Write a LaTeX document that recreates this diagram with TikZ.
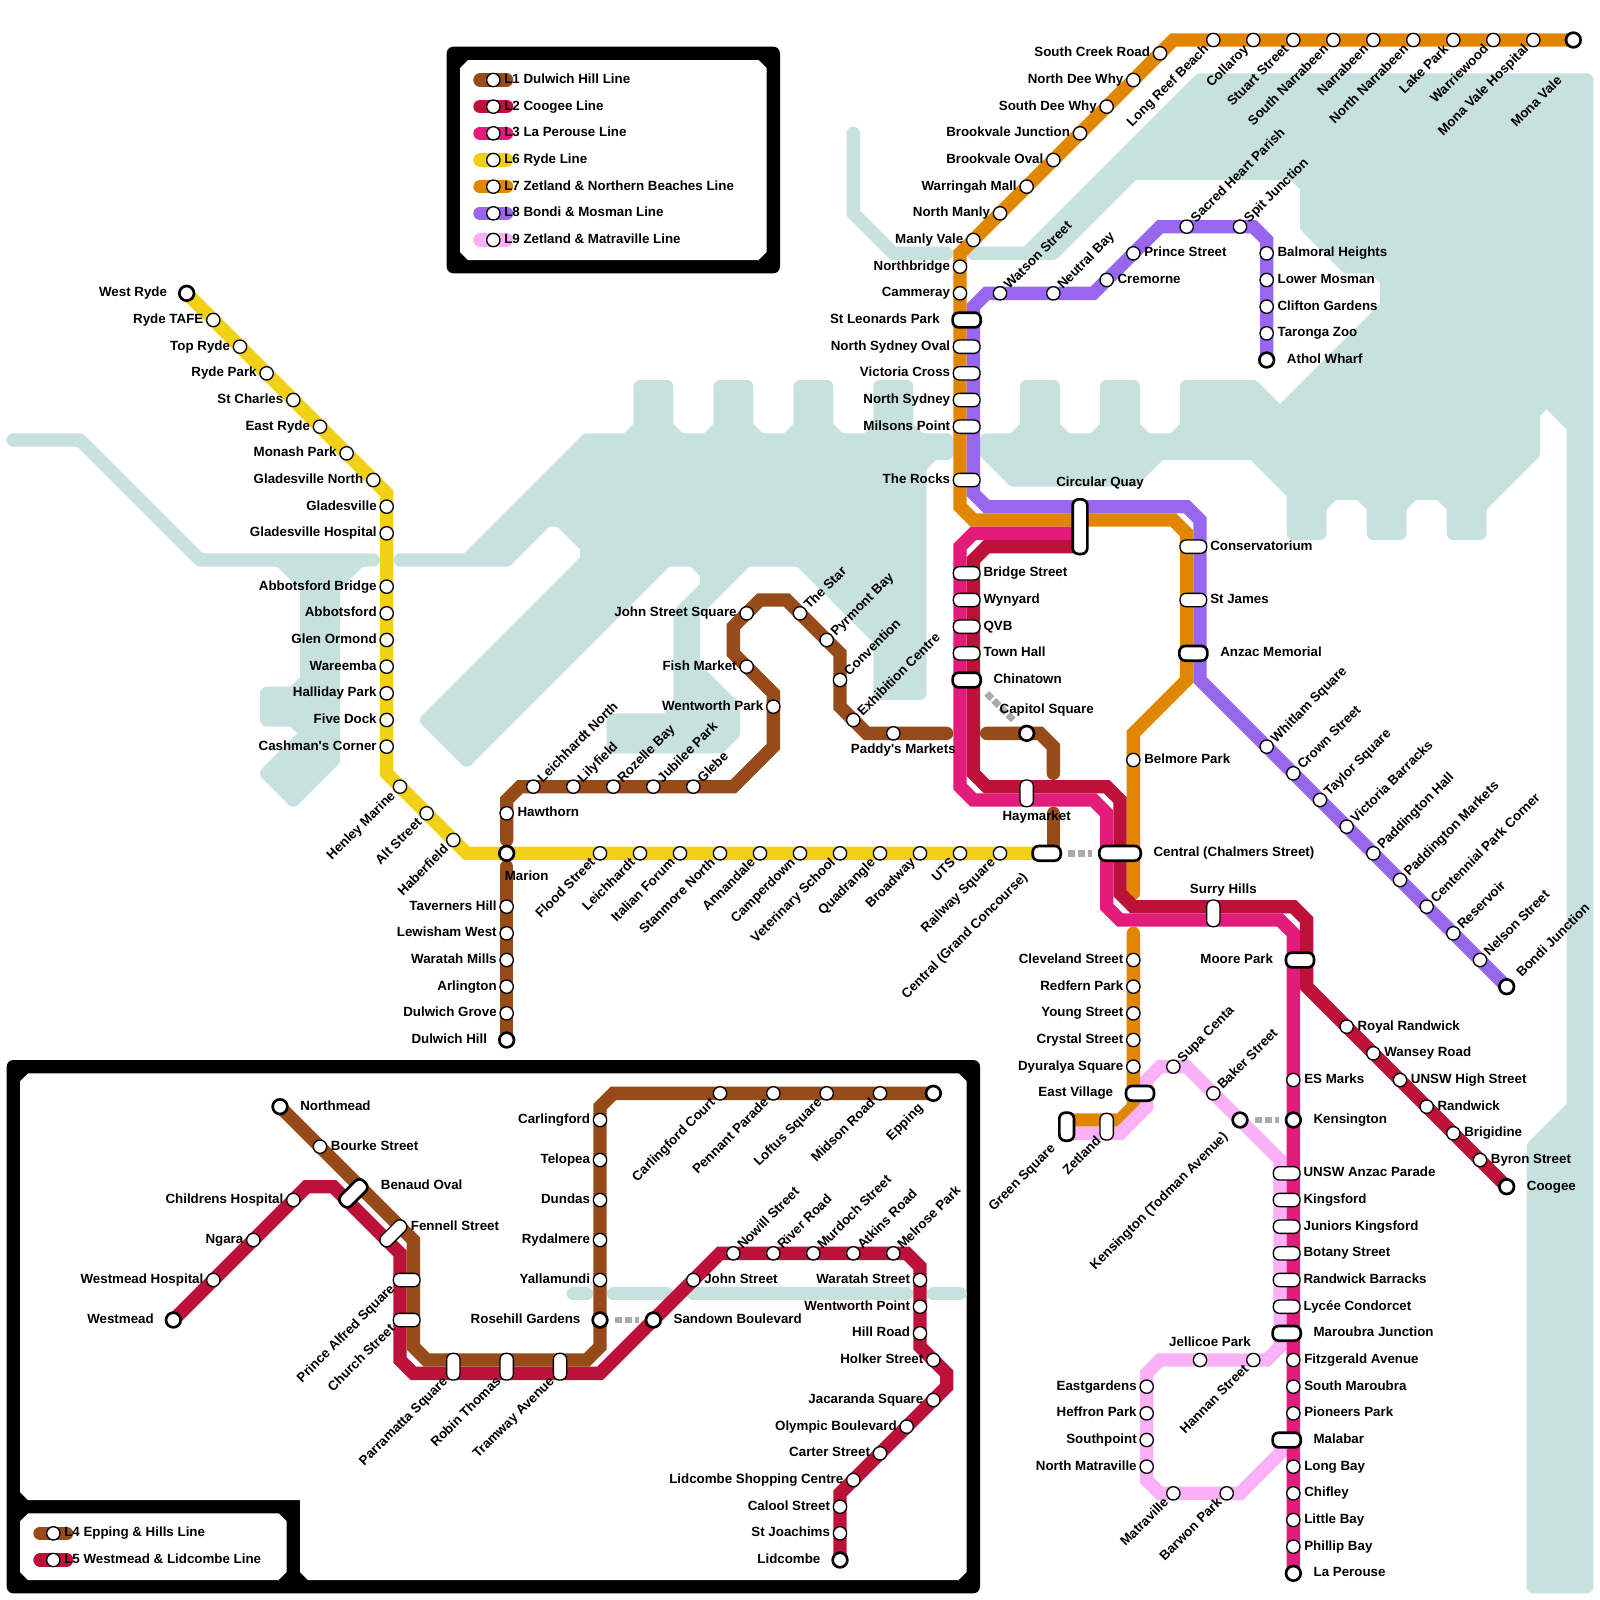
\documentclass[tikz,border=0pt]{standalone}
\usepackage{fontspec}
\newfontfamily\stopfont{Liberation Sans}
\pgfdeclarelayer{stops}
\pgfsetlayers{main,stops}
\definecolor{waterblue}{HTML}{C7E1DF}
\definecolor{lineone}{HTML}{964B19}
\definecolor{linetwo}{HTML}{BC1138}
\definecolor{linethree}{HTML}{E31C7C}
\definecolor{linesix}{HTML}{F2D016}
\definecolor{lineseven}{HTML}{E08600}
\definecolor{lineeight}{HTML}{9966EE}
\definecolor{linenine}{HTML}{FBB1F8}
\tikzset{
  every picture/.style={line cap=round,line join=miter},
  waterarea/.style={fill=waterblue,draw=waterblue,line width=10pt,line join=round},
  waterline/.style={draw=waterblue,line width=10pt},
  metroline/.style={draw=#1,line width=10pt},
  transfer/.style={draw=black!33,line width=5pt,line cap=butt,dash pattern=on 5.6pt off 1.9pt,shorten <=4.5pt,shorten >=4.5pt},
  stopnode/.style={circle,draw,fill=white,line width=1pt,minimum size=10pt,inner sep=0pt},
  endnode/.style={stopnode,line width=2pt,minimum size=11pt},
  pillnode/.style={rectangle,rounded corners=4.5pt,draw,fill=white,line width=1pt,minimum width=#1,minimum height=10pt,inner sep=0pt},
  pillnode/.default=20pt,
  thicknode/.style={pillnode=#1,line width=2pt,minimum height=11pt},
  thicknode/.default=21pt,
  lab/.style={inner sep=0pt,font=\fontsize{10}{12}\stopfont\bfseries},
  rgt/.style={lab,anchor=base west,xshift=#1,yshift=-2.5pt},
  rgt/.default=8pt,
  lft/.style={lab,anchor=base east,xshift=-#1,yshift=-2.5pt},
  lft/.default=7.3pt,
  upr/.style={lab,xshift=.707*#1+2pt,yshift=.707*#1-2.5pt,rotate=45,anchor=base west},
  upr/.default=7pt,
  lowl/.style={lab,xshift=-.707*#1+2pt,yshift=-.707*#1-2.5pt,rotate=45,anchor=base east},
  lowl/.default=7pt,
  lowv/.style={lab,xshift=-3.7pt,yshift=-11.5pt,rotate=45,anchor=base east},
  lowp/.style={lab,xshift=-8.3pt,yshift=-7.2pt,rotate=45,anchor=base east},
  lbloff/.style n args={3}{lab,anchor=#1,xshift=#2,yshift=#3}
}
\newcommand{\stopat}[5][stopnode]{%
  \node[#1] (#2) at (#3) {};
  \node[#4] (#2t) at (#2.center) {#5};}
\newcommand{\keyrow}[4]{%
  \coordinate (#1) at (#2);
  \draw[metroline=#3] ([xshift=-10pt]#1) -- ([xshift=10pt]#1);
  \stopat{#1s}{#1}{rgt}{#4}}

\begin{document}
\begin{tikzpicture}[x=10pt,y=-10pt]
  \useasboundingbox (0,0) rectangle (120,120);
  % water
  \draw[waterarea] (1,33) -- (6,33) -- (15,42) -- (28,42) -- (27,42) -- (25,44) -- (25,57) -- (22,60) -- (20,58) -- (23,55) -- (22,54) -- (20,54) -- (20,52) -- (22,52) -- (23,51) -- (23,44) -- (21,42) -- (15,42) -- (6,33) -- cycle;
  \draw[waterarea] (30,42) -- (35,42) -- (44,33) -- (47,33) -- (48,32) -- (48,29) -- (50,29) -- (50,32) -- (51,33) -- (53,33) -- (54,32) -- (54,29) -- (56,29) -- (56,32) -- (57,33) -- (59,33) -- (60,32) -- (60,29) -- (62,29) -- (62,32) -- (63,33) -- (65,33) -- (66,32) -- (66,29) -- (68,29) -- (68,32) -- (69,33) -- (71,33) -- (71,34) -- (70,34) -- (69,35) -- (69,52) -- (66,52) -- (66,48) -- (60,42) -- (56,42) -- (52,46) -- (52,50) -- (55,53) -- (55,55) -- (54,56) -- (46,56) -- (46,54) -- (50,54) -- (51,53) -- (51,46) -- (53,44) -- (53,43) -- (52,42) -- (50,42) -- (35,57) -- (32,54) -- (44,42) -- (44,41) -- (42,39) -- (41,39) -- (38,42) -- cycle;
  \draw[waterarea] (74,33) -- (76,33) -- (77,32) -- (77,29) -- (79,29) -- (79,32) -- (80,33) -- (82,33) -- (83,32) -- (83,29) -- (85,29) -- (85,32) -- (86,33) -- (88,33) -- (89,32) -- (89,29) -- (94,29) -- (96,31) -- (104,23) -- (104,21) -- (103,20) -- (101,20) -- (98,17) -- (98,14) -- (97,13) -- (85,13) -- (79,19) -- (73,19) -- (77,19) -- (90,6) -- (119,6) -- (119,119) -- (115,119) -- (115,86) -- (118,83) -- (118,32) -- (116,30) -- (115,31) -- (115,34) -- (111,38) -- (111,40) -- (109,40) -- (109,38) -- (108,37) -- (106,37) -- (105,38) -- (105,40) -- (103,40) -- (103,38) -- (102,37) -- (100,37) -- (99,38) -- (99,40) -- (97,40) -- (97,37) -- (94,34) -- (87,34) -- (85,36) -- (76,36) -- (74,34) -- cycle;
  \draw[waterline] (64,10) -- (64,16) -- (67,19) -- (71,19);

  % frames
  \fill[rounded corners=5pt] (33.5,3.5) rectangle (58.5,20.5);
  \fill[white] (35.1,4.5) -- (56.9,4.5) -- (57.5,5.1) -- (57.5,18.9) -- (56.9,19.5) -- (35.1,19.5) -- (34.5,18.9) -- (34.5,5.1) -- cycle;
  \fill[rounded corners=5pt] (0.5,79.5) rectangle (73.5,119.5);
  \fill[white] (2.1,80.5) -- (71.9,80.5) -- (72.5,81.1) -- (72.5,117.9) -- (71.9,118.5) -- (23.1,118.5) -- (22.5,117.9) -- (22.5,112.5) -- (2.1,112.5) -- (1.5,111.9) -- (1.5,81.1) -- cycle;
  \fill[white] (2.1,113.5) -- (20.9,113.5) -- (21.5,114.1) -- (21.5,117.9) -- (20.9,118.5) -- (2.1,118.5) -- (1.5,117.9) -- (1.5,114.1) -- cycle;
  \draw[waterline] (43,97) -- (44,97);
  \draw[waterline] (46,97) -- (50,97);
  \draw[waterline] (52,97) -- (68,97);
  \draw[waterline] (70,97) -- (72,97);

  \begin{pgfonlayer}{stops}
    % L6
    \stopat[endnode]{wryde}{14,22}{lft=14.5pt}{West Ryde}
    \stopat{rtafe}{16,24}{lft}{Ryde TAFE}
    \stopat{tryde}{18,26}{lft}{Top Ryde}
    \stopat{rpark}{20,28}{lft}{Ryde Park}
    \stopat{schas}{22,30}{lft}{St Charles}
    \stopat{eryde}{24,32}{lft}{East Ryde}
    \stopat{monash}{26,34}{lft}{Monash Park}
    \stopat{gnorth}{28,36}{lft}{Gladesville North}
    \stopat{gville}{29,38}{lft}{Gladesville}
    \stopat{ghosp}{29,40}{lft}{Gladesville Hospital}
    \stopat{abridge}{29,44}{lft}{Abbotsford Bridge}
    \stopat{abbots}{29,46}{lft}{Abbotsford}
    \stopat{glen}{29,48}{lft}{Glen Ormond}
    \stopat{ware}{29,50}{lft}{Wareemba}
    \stopat{halli}{29,52}{lft}{Halliday Park}
    \stopat{fived}{29,54}{lft}{Five Dock}
    \stopat{cashm}{29,56}{lft}{Cashman's Corner}
    \stopat{henley}{30,59}{lowl}{Henley Marine}
    \stopat{altst}{32,61}{lowl}{Alt Street}
    \stopat{haber}{34,63}{lowl}{Haberfield}
    \stopat[endnode]{marion}{38,64}{lbloff={base}{15pt}{-20pt}}{Marion}
    \stopat{flood}{45,64}{lowl}{Flood Street}
    \stopat{leich}{48,64}{lowl}{Leichhardt}
    \stopat{italian}{51,64}{lowl}{Italian Forum}
    \stopat{stanm}{54,64}{lowl}{Stanmore North}
    \stopat{annan}{57,64}{lowl}{Annandale}
    \stopat{campd}{60,64}{lowl}{Camperdown}
    \stopat{vets}{63,64}{lowl}{Veterinary School}
    \stopat{quad}{66,64}{lowl}{Quadrangle}
    \stopat{broad}{69,64}{lowl}{Broadway}
    \stopat{uts}{72,64}{lowl}{UTS}
    \stopat{rail}{75,64}{lowl}{Railway Square}
    \stopat[thicknode]{grand}{78.5,64}{lowl=22.5pt}{Central (Grand Concourse)}
    % L7
    \stopat[endnode]{mona}{118,3}{{lbloff={base east}{-8pt}{-31pt},rotate=45}}{Mona Vale}
    \stopat{monah}{115,3}{lowl}{Mona Vale Hospital}
    \stopat{warri}{112,3}{lowl}{Warriewood}
    \stopat{lakep}{109,3}{lowl}{Lake Park}
    \stopat{nnarra}{106,3}{lowl}{North Narrabeen}
    \stopat{narra}{103,3}{lowl}{Narrabeen}
    \stopat{snarra}{100,3}{lowl}{South Narrabeen}
    \stopat{stuart}{97,3}{lowl}{Stuart Street}
    \stopat{colla}{94,3}{lowl}{Collaroy}
    \stopat{reef}{91,3}{lowl}{Long Reef Beach}
    \stopat{screek}{87,4}{lft}{South Creek Road}
    \stopat{ndee}{85,6}{lft}{North Dee Why}
    \stopat{sdee}{83,8}{lft}{South Dee Why}
    \stopat{bjunc}{81,10}{lft}{Brookvale Junction}
    \stopat{boval}{79,12}{lft}{Brookvale Oval}
    \stopat{wmall}{77,14}{lft}{Warringah Mall}
    \stopat{nmanly}{75,16}{lft}{North Manly}
    \stopat{mvale}{73,18}{lft}{Manly Vale}
    \stopat{nbridge}{72,20}{lft}{Northbridge}
    \stopat{camm}{72,22}{lft}{Cammeray}
    \stopat[thicknode]{leonards}{72.5,24}{lft=20pt}{St Leonards Park}
    \stopat[pillnode]{nsoval}{72.5,26}{lft=12.2pt}{North Sydney Oval}
    \stopat[pillnode]{vcross}{72.5,28}{lft=12.2pt}{Victoria Cross}
    \stopat[pillnode]{nsyd}{72.5,30}{lft=12.2pt}{North Sydney}
    \stopat[pillnode]{milsons}{72.5,32}{lft=12.2pt}{Milsons Point}
    \stopat[pillnode]{rocks}{72.5,36}{lft=12.2pt}{The Rocks}
    \stopat[{thicknode=41pt,rotate=90}]{quay}{81,39.5}{lbloff={base}{15pt}{30.5pt}}{Circular Quay}
    \stopat[pillnode]{conserv}{89.5,41}{rgt=12.5pt}{Conservatorium}
    \stopat[pillnode]{james}{89.5,45}{rgt=12.5pt}{St James}
    \stopat[thicknode]{anzac}{89.5,49}{rgt=20pt}{Anzac Memorial}
    \stopat{belmore}{85,57}{rgt}{Belmore Park}
    \stopat[thicknode=31pt]{chalmers}{84,64}{rgt=25pt}{Central (Chalmers Street)}
    \stopat{cleve}{85,72}{lft}{Cleveland Street}
    \stopat{redf}{85,74}{lft}{Redfern Park}
    \stopat{young}{85,76}{lft}{Young Street}
    \stopat{crystal}{85,78}{lft}{Crystal Street}
    \stopat{dyur}{85,80}{lft}{Dyuralya Square}
    \stopat[thicknode]{evill}{85.5,82}{lft=20pt}{East Village}
    \stopat[{thicknode,rotate=90}]{green}{80,84.5}{{lbloff={base east}{-8pt}{-17pt},rotate=45}}{Green Square}
    \stopat[{pillnode,rotate=90}]{zetl}{83,84.5}{lowv}{Zetland}
    % L8
    \stopat{watson}{75,22}{upr}{Watson Street}
    \stopat{neutral}{79,22}{upr}{Neutral Bay}
    \stopat{cremo}{83,21}{rgt}{Cremorne}
    \stopat{prince}{85,19}{rgt}{Prince Street}
    \stopat{sacred}{89,17}{upr}{Sacred Heart Parish}
    \stopat{spit}{93,17}{upr}{Spit Junction}
    \stopat{balm}{95,19}{rgt}{Balmoral Heights}
    \stopat{lmos}{95,21}{rgt}{Lower Mosman}
    \stopat{clift}{95,23}{rgt}{Clifton Gardens}
    \stopat{taron}{95,25}{rgt}{Taronga Zoo}
    \stopat[endnode]{athol}{95,27}{rgt=15pt}{Athol Wharf}
    \stopat{whit}{95,56}{upr}{Whitlam Square}
    \stopat{crown}{97,58}{upr}{Crown Street}
    \stopat{taylor}{99,60}{upr}{Taylor Square}
    \stopat{vicb}{101,62}{upr}{Victoria Barracks}
    \stopat{padh}{103,64}{upr}{Paddington Hall}
    \stopat{padm}{105,66}{upr}{Paddington Markets}
    \stopat{cpark}{107,68}{upr}{Centennial Park Corner}
    \stopat{reser}{109,70}{upr}{Reservoir}
    \stopat{nelson}{111,72}{upr}{Nelson Street}
    \stopat[endnode]{bondi}{113,74}{upr=13pt}{Bondi Junction}
    % L2 and L3
    \stopat[pillnode]{bridge}{72.5,43}{rgt=12.5pt}{Bridge Street}
    \stopat[pillnode]{wyn}{72.5,45}{rgt=12.5pt}{Wynyard}
    \stopat[pillnode]{qvb}{72.5,47}{rgt=12.5pt}{QVB}
    \stopat[pillnode]{thall}{72.5,49}{rgt=12.5pt}{Town Hall}
    \stopat[thicknode]{china}{72.5,51}{rgt=20pt}{Chinatown}
    \stopat[{pillnode,rotate=90}]{hay}{77,59.5}{lbloff={base}{7.5pt}{-20pt}}{Haymarket}
    \stopat[{pillnode,rotate=90}]{surry}{91,68.5}{lbloff={base}{7.5pt}{15pt}}{Surry Hills}
    \stopat[thicknode]{moore}{97.5,72}{lft=20pt}{Moore Park}
    \stopat{royal}{101,77}{rgt}{Royal Randwick}
    \stopat{wansey}{103,79}{rgt}{Wansey Road}
    \stopat{unswh}{105,81}{rgt}{UNSW High Street}
    \stopat{randw}{107,83}{rgt}{Randwick}
    \stopat{brig}{109,85}{rgt}{Brigidine}
    \stopat{byron}{111,87}{rgt}{Byron Street}
    \stopat[endnode]{coogee}{113,89}{rgt=15pt}{Coogee}
    \stopat{esm}{97,81}{rgt}{ES Marks}
    \stopat[endnode]{kens}{97,84}{rgt=15pt}{Kensington}
    \stopat[pillnode]{unswa}{96.5,88}{rgt=12.5pt}{UNSW Anzac Parade}
    \stopat[pillnode]{kings}{96.5,90}{rgt=12.5pt}{Kingsford}
    \stopat[pillnode]{junk}{96.5,92}{rgt=12.5pt}{Juniors Kingsford}
    \stopat[pillnode]{botany}{96.5,94}{rgt=12.5pt}{Botany Street}
    \stopat[pillnode]{rbar}{96.5,96}{rgt=12.5pt}{Randwick Barracks}
    \stopat[pillnode]{lycee}{96.5,98}{rgt=12.5pt}{Lycée Condorcet}
    \stopat[thicknode]{marou}{96.5,100}{rgt=20pt}{Maroubra Junction}
    \stopat{fitz}{97,102}{rgt}{Fitzgerald Avenue}
    \stopat{smar}{97,104}{rgt}{South Maroubra}
    \stopat{pione}{97,106}{rgt}{Pioneers Park}
    \stopat[thicknode]{malab}{96.5,108}{rgt=20pt}{Malabar}
    \stopat{longb}{97,110}{rgt}{Long Bay}
    \stopat{chif}{97,112}{rgt}{Chifley}
    \stopat{littb}{97,114}{rgt}{Little Bay}
    \stopat{phil}{97,116}{rgt}{Phillip Bay}
    \stopat[endnode]{laper}{97,118}{rgt=15pt}{La Perouse}
    % L9
    \stopat{supa}{88,80}{upr}{Supa Centa}
    \stopat{baker}{91,82}{upr}{Baker Street}
    \stopat[endnode]{todman}{93,84}{lowl=15pt}{Kensington (Todman Avenue)}
    \stopat{jell}{90,102}{lbloff={base}{7.5pt}{10pt}}{Jellicoe Park}
    \stopat{hannan}{94,102}{lowl}{Hannan Street}
    \stopat{eastg}{86,104}{lft}{Eastgardens}
    \stopat{heff}{86,106}{lft}{Heffron Park}
    \stopat{south}{86,108}{lft}{Southpoint}
    \stopat{nmat}{86,110}{lft}{North Matraville}
    \stopat{matr}{88,112}{lowl}{Matraville}
    \stopat{barw}{92,112}{lowl}{Barwon Park}
    % L1
    \stopat{hawth}{38,61}{rgt}{Hawthorn}
    \stopat{tav}{38,68}{lft}{Taverners Hill}
    \stopat{lew}{38,70}{lft}{Lewisham West}
    \stopat{wat}{38,72}{lft}{Waratah Mills}
    \stopat{arl}{38,74}{lft}{Arlington}
    \stopat{dgr}{38,76}{lft}{Dulwich Grove}
    \stopat[endnode]{dulw}{38,78}{lft=14.5pt}{Dulwich Hill}
    \stopat{lnorth}{40,59}{upr}{Leichhardt North}
    \stopat{lily}{43,59}{upr}{Lilyfield}
    \stopat{roz}{46,59}{upr}{Rozelle Bay}
    \stopat{jub}{49,59}{upr}{Jubilee Park}
    \stopat{glebe}{52,59}{upr}{Glebe}
    \stopat{wpark}{58,53}{lft}{Wentworth Park}
    \stopat{fish}{56,50}{lft}{Fish Market}
    \stopat{jsq}{56,46}{lft}{John Street Square}
    \stopat{star}{60,46}{upr}{The Star}
    \stopat{pyr}{62,48}{upr}{Pyrmont Bay}
    \stopat{conv}{63,51}{upr}{Convention}
    \stopat{exh}{64,54}{upr}{Exhibition Centre}
    \stopat{paddy}{67,55}{lbloff={base}{7.5pt}{-15pt}}{Paddy's Markets}
    \stopat[endnode]{capit}{77,55}{lbloff={base}{15pt}{15pt}}{Capitol Square}
    % L4
    \stopat[endnode]{nmead}{21,83}{rgt=15pt}{Northmead}
    \stopat{bourke}{24,86}{rgt}{Bourke Street}
    \stopat[{thicknode=24pt,rotate=45}]{benaud}{26.5,89.5}{lbloff={base west}{20.5pt}{3pt}}{Benaud Oval}
    \stopat[{pillnode=24pt,rotate=45}]{fenn}{29.5,92.5}{lbloff={base west}{13pt}{2.5pt}}{Fennell Street}
    \stopat[pillnode]{palf}{30.5,96}{lowp}{Prince Alfred Square}
    \stopat[pillnode]{church}{30.5,99}{lowp}{Church Street}
    \stopat[{pillnode,rotate=90}]{parra}{34,102.5}{lowv}{Parramatta Square}
    \stopat[{pillnode,rotate=90}]{robin}{38,102.5}{lowv}{Robin Thomas}
    \stopat[{pillnode,rotate=90}]{tram}{42,102.5}{lowv}{Tramway Avenue}
    \stopat{carl}{45,84}{lft}{Carlingford}
    \stopat{telo}{45,87}{lft}{Telopea}
    \stopat{dund}{45,90}{lft}{Dundas}
    \stopat{rydal}{45,93}{lft}{Rydalmere}
    \stopat{yalla}{45,96}{lft}{Yallamundi}
    \stopat[endnode]{rose}{45,99}{lft=14.5pt}{Rosehill Gardens}
    \stopat{ccourt}{54,82}{lowl}{Carlingford Court}
    \stopat{penn}{58,82}{lowl}{Pennant Parade}
    \stopat{loftus}{62,82}{lowl}{Loftus Square}
    \stopat{midson}{66,82}{lowl}{Midson Road}
    \stopat[endnode]{epp}{70,82}{lowl=13pt}{Epping}
    % L5
    \stopat[endnode]{wmead}{13,99}{lft=14.5pt}{Westmead}
    \stopat{whosp}{16,96}{lft}{Westmead Hospital}
    \stopat{ngara}{19,93}{lft}{Ngara}
    \stopat{child}{22,90}{lft}{Childrens Hospital}
    \stopat[endnode]{sand}{49,99}{rgt=15pt}{Sandown Boulevard}
    \stopat{johnst}{52,96}{rgt}{John Street}
    \stopat{nowill}{55,94}{upr}{Nowill Street}
    \stopat{river}{58,94}{upr}{River Road}
    \stopat{murd}{61,94}{upr}{Murdoch Street}
    \stopat{atk}{64,94}{upr}{Atkins Road}
    \stopat{melr}{67,94}{upr}{Melrose Park}
    \stopat{warat}{69,96}{lft}{Waratah Street}
    \stopat{wpoint}{69,98}{lft}{Wentworth Point}
    \stopat{hill}{69,100}{lft}{Hill Road}
    \stopat{holk}{70,102}{lft}{Holker Street}
    \stopat{jaca}{70,105}{lft}{Jacaranda Square}
    \stopat{olym}{68,107}{lft}{Olympic Boulevard}
    \stopat{cart}{66,109}{lft}{Carter Street}
    \stopat{lshop}{64,111}{lft}{Lidcombe Shopping Centre}
    \stopat{calool}{63,113}{lft}{Calool Street}
    \stopat{joach}{63,115}{lft}{St Joachims}
    \stopat[endnode]{lidc}{63,117}{lft=14.5pt}{Lidcombe}
  \end{pgfonlayer}

  % free ends of the lines
  \coordinate (quaymag) at (81,40);
  \coordinate (quaycri) at (81,41);
  \coordinate (orgn) at (85,67);
  \coordinate (orgs) at (85,70);
  \coordinate (orgw) at (80,84);
  \coordinate (pnkw) at (80,85);
  \coordinate (pnke) at (96,108);
  \coordinate (brna) at (38,65);
  \coordinate (brnb) at (38,63);
  \coordinate (brnc) at (71,55);
  \coordinate (brnd) at (74,55);
  \coordinate (brne) at (79,58);
  \coordinate (brnf) at (79,61);
  \coordinate (brng) at (79,64);
  \coordinate (chinaa) at (74,52);
  \coordinate (chinab) at (76,54);

  % lines
  \draw[metroline=lineseven] (mona.center) -- (88,3) -- (72,19) -- (72,38) -- (73,39) -- (88,39) -- (89,40) -- (89,51) -- (85,55) -- (orgn);
  \draw[metroline=lineseven] (orgs) -- (85,83) -- (84,84) -- (orgw);
  \draw[metroline=lineeight] (bondi.center) -- (90,51) -- (90,39) -- (89,38) -- (74,38) -- (73,37) -- (73,23) -- (74,22) -- (82,22) -- (87,17) -- (94,17) -- (95,18) -- (athol.center);
  \draw[metroline=linesix] (wryde.center) -- (29,37) -- (29,58) -- (35,64) -- (grand.center);
  \draw[metroline=lineone] (dulw.center) -- (brna);
  \draw[metroline=lineone] (brnb) -- (38,60) -- (39,59) -- (55,59) -- (58,56) -- (58,52) -- (55,49) -- (55,47) -- (57,45) -- (59,45) -- (63,49) -- (63,53) -- (65,55) -- (brnc);
  \draw[metroline=lineone] (brnd) -- (78,55) -- (79,56) -- (brne);
  \draw[metroline=lineone] (brnf) -- (brng);
  \draw[metroline=linenine] (pnkw) -- (84,85) -- (86,83) -- (86,81) -- (87,80) -- (89,80) -- (96,87) -- (96,101) -- (95,102) -- (87,102) -- (86,103) -- (86,111) -- (87,112) -- (93,112) -- (96,109) -- (pnke);
  \draw[metroline=linetwo] (quaycri) -- (74,41) -- (73,42) -- (73,58) -- (74,59) -- (83,59) -- (84,60) -- (84,67) -- (85,68) -- (97,68) -- (98,69) -- (98,74) -- (coogee.center);
  \draw[metroline=linethree] (quaymag) -- (73,40) -- (72,41) -- (72,59) -- (73,60) -- (82,60) -- (83,61) -- (83,68) -- (84,69) -- (96,69) -- (97,70) -- (laper.center);
  \draw[metroline=linetwo] (wmead.center) -- (23,89) -- (25,89) -- (30,94) -- (30,102) -- (31,103) -- (45,103) -- (54,94) -- (68,94) -- (69,95) -- (69,101) -- (71,103) -- (71,104) -- (63,112) -- (lidc.center);
  \draw[metroline=lineone] (nmead.center) -- (31,93) -- (31,101) -- (32,102) -- (44,102) -- (45,101) -- (45,83) -- (46,82) -- (epp.center);

  % transfers
  \draw[transfer] (grand.east) -- (chalmers.west);
  \draw[transfer] (todman.east) -- (kens.west);
  \draw[transfer] (rose.east) -- (sand.west);
  \draw[transfer,shorten <=0pt,shorten >=0pt] (chinaa) -- (chinab);

  % keys
  \keyrow{keya}{37,6}{lineone}{L1 Dulwich Hill Line}
  \keyrow{keyb}{37,8}{linetwo}{L2 Coogee Line}
  \keyrow{keyc}{37,10}{linethree}{L3 La Perouse Line}
  \keyrow{keyd}{37,12}{linesix}{L6 Ryde Line}
  \keyrow{keye}{37,14}{lineseven}{L7 Zetland \& Northern Beaches Line}
  \keyrow{keyf}{37,16}{lineeight}{L8 Bondi \& Mosman Line}
  \keyrow{keyg}{37,18}{linenine}{L9 Zetland \& Matraville Line}
  \keyrow{keyh}{4,115}{lineone}{L4 Epping \& Hills Line}
  \keyrow{keyi}{4,117}{linetwo}{L5 Westmead \& Lidcombe Line}
\end{tikzpicture}
\end{document}
